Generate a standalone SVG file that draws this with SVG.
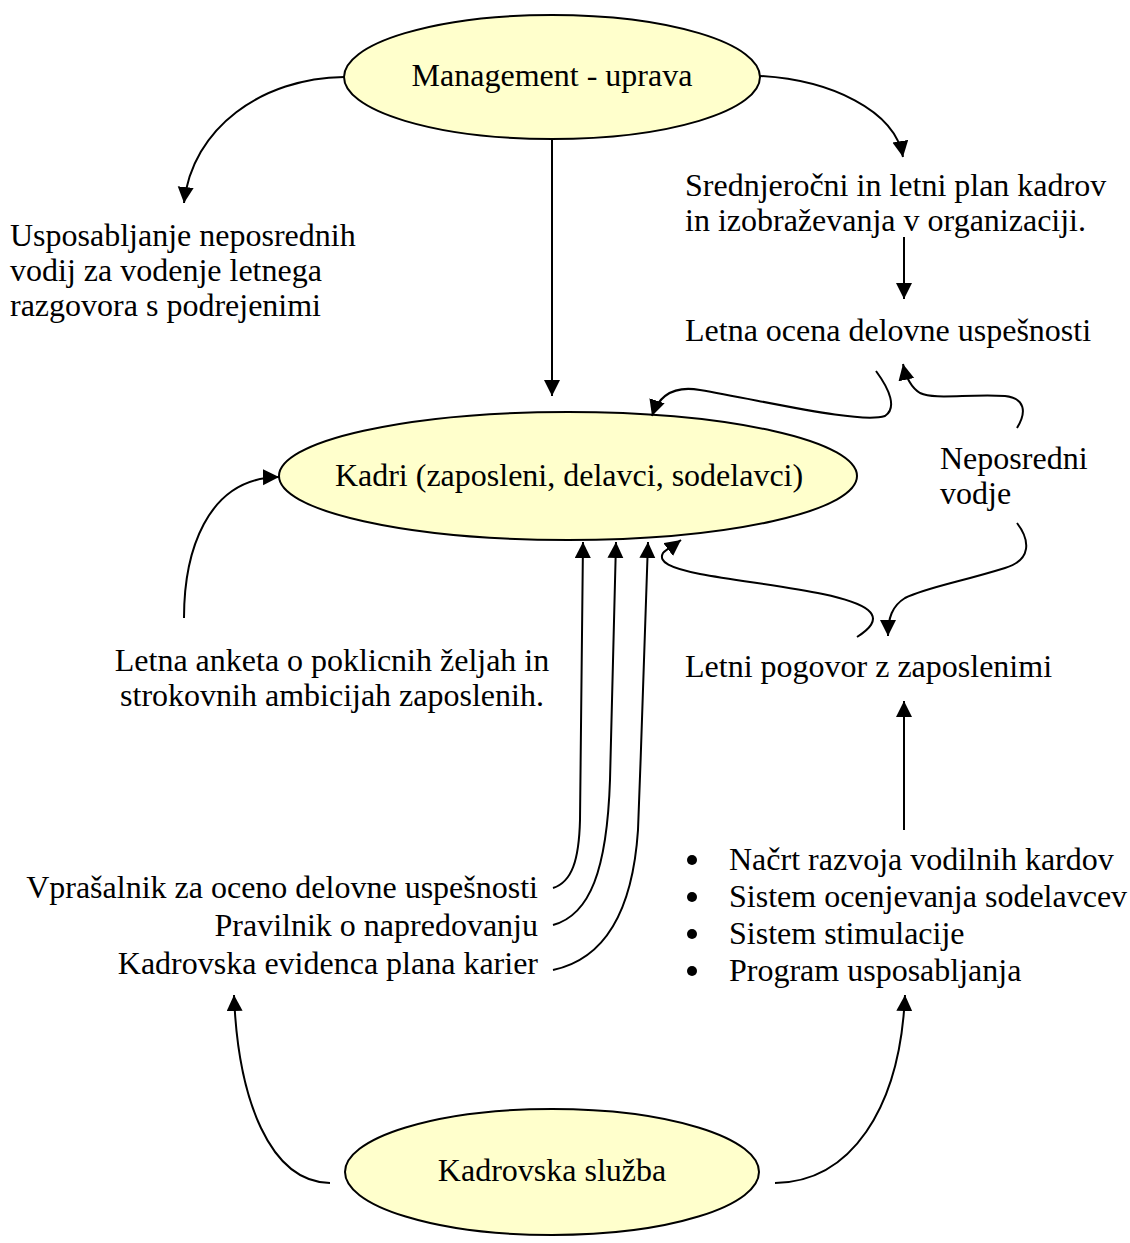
<svg xmlns="http://www.w3.org/2000/svg" width="1130" height="1243" viewBox="0 0 1130 1243">
  <style>
    text { font-family: "Liberation Serif", "Times New Roman", serif; font-size: 32px; fill: #000; }
    .mid { text-anchor: middle; }
    .end { text-anchor: end; }
    .node { fill: #FFFFCC; stroke: #000; stroke-width: 2; }
    .link { fill: none; stroke: #000; stroke-width: 2; marker-end: url(#arrow); }
  </style>
  <defs>
    <marker id="arrow" markerUnits="userSpaceOnUse" markerWidth="17" markerHeight="17" refX="16" refY="8" orient="auto">
      <path d="M0,0 L16,8 L0,16 Z" fill="#000"/>
    </marker>
  </defs>

  <!-- nodes -->
  <g id="management">
    <ellipse class="node" cx="552" cy="77" rx="208" ry="62"/>
    <text class="mid" x="552" y="86">Management - uprava</text>
  </g>
  <g id="kadri">
    <ellipse class="node" cx="568" cy="476" rx="289" ry="64"/>
    <text class="mid" x="569" y="486">Kadri (zaposleni, delavci, sodelavci)</text>
  </g>
  <g id="kadrovska-sluzba">
    <ellipse class="node" cx="552" cy="1172" rx="207" ry="63"/>
    <text class="mid" x="552" y="1181">Kadrovska služba</text>
  </g>

  <!-- labels -->
  <g id="usposabljanje">
    <text x="10" y="246">Usposabljanje neposrednih</text>
    <text x="10" y="281">vodij za vodenje letnega</text>
    <text x="10" y="316">razgovora s podrejenimi</text>
  </g>
  <g id="plan-kadrov">
    <text x="685" y="196">Srednjeročni in letni plan kadrov</text>
    <text x="685" y="231">in izobraževanja v organizaciji.</text>
  </g>
  <g id="letna-ocena">
    <text x="685" y="341">Letna ocena delovne uspešnosti</text>
  </g>
  <g id="neposredni-vodje">
    <text x="940" y="469">Neposredni</text>
    <text x="940" y="504">vodje</text>
  </g>
  <g id="letna-anketa">
    <text class="mid" x="332" y="671">Letna anketa o poklicnih željah in</text>
    <text class="mid" x="332" y="706">strokovnih ambicijah zaposlenih.</text>
  </g>
  <g id="letni-pogovor">
    <text x="685" y="677">Letni pogovor z zaposlenimi</text>
  </g>
  <g id="dokumenti">
    <text class="end" x="538" y="898">Vprašalnik za oceno delovne uspešnosti</text>
    <text class="end" x="538" y="936">Pravilnik o napredovanju</text>
    <text class="end" x="538" y="974">Kadrovska evidenca plana karier</text>
  </g>
  <g id="sistemi">
    <circle cx="692" cy="860" r="5"/>
    <text x="729" y="870">Načrt razvoja vodilnih kardov</text>
    <circle cx="692" cy="897" r="5"/>
    <text x="729" y="907">Sistem ocenjevanja sodelavcev</text>
    <circle cx="692" cy="934" r="5"/>
    <text x="729" y="944">Sistem stimulacije</text>
    <circle cx="692" cy="971" r="5"/>
    <text x="729" y="981">Program usposabljanja</text>
  </g>

  <!-- connectors -->
  <g id="connectors">
    <path class="link" d="M344 77 C 262 78, 192 128, 184 203"/>
    <path class="link" d="M760 76 C 830 80, 895 110, 903 157"/>
    <path class="link" d="M552 140 L552 396"/>
    <path class="link" d="M904 237 L904 299"/>
    <path class="link" d="M876 371 C 890 390, 897 408, 885 416 C 860 424, 770 402, 700 390 C 672 385, 658 398, 652 416"/>
    <path class="link" d="M1017 428 C 1027 412, 1025 398, 1005 396 C 965 394, 935 400, 920 393 C 912 388, 906 378, 903 364"/>
    <path class="link" d="M1017 523 C 1030 540, 1032 560, 1005 568 C 960 582, 925 588, 905 598 C 892 606, 888 618, 888 636"/>
    <path class="link" d="M857 637 C 868 630, 880 620, 868 610 C 845 592, 760 585, 700 574 C 670 568, 658 562, 663 553 C 666 549, 673 546, 681 540"/>
    <path class="link" d="M184 618 C 184 555, 205 478, 279 477"/>
    <path class="link" d="M553 888 C 572 882, 579 860, 580 820 L583 542"/>
    <path class="link" d="M553 925 C 590 915, 607 870, 610 780 C 612 680, 614 600, 616 542"/>
    <path class="link" d="M553 970 C 600 960, 632 920, 638 830 C 642 730, 645 620, 648 542"/>
    <path class="link" d="M330 1183 C 270 1182, 238 1100, 234 995"/>
    <path class="link" d="M775 1183 C 850 1182, 900 1110, 905 995"/>
    <path class="link" d="M904 830 L904 701"/>
  </g>
</svg>
